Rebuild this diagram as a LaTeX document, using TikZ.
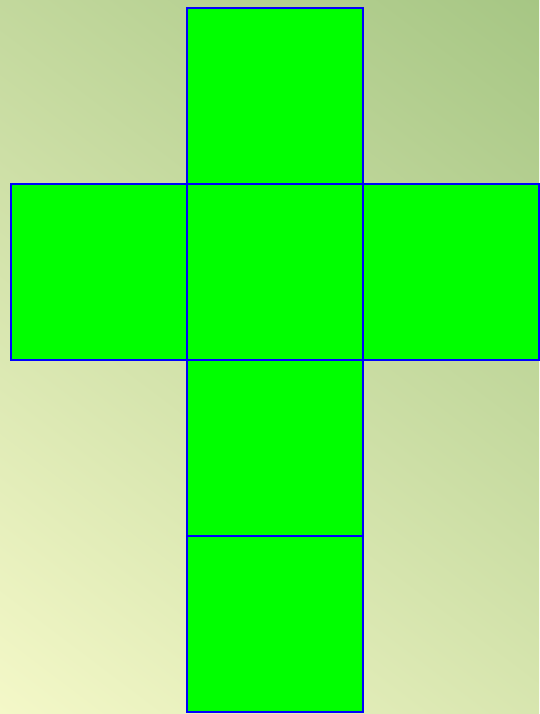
\documentclass[tikz,border=0pt]{standalone}
\begin{document}
\begin{tikzpicture}[x=1pt,y=-1pt,
  face/.style={draw=blue, fill=green, line width=2pt, minimum size=176pt, inner sep=0pt, outer sep=0pt, rectangle}]
\definecolor{bgyellow}{HTML}{F4F8C8}
\definecolor{bggreen}{HTML}{A6C684}
\useasboundingbox (0,0) rectangle (539,714);
\begin{scope}
\clip (0,0) rectangle (539,714);
\begin{scope}[transform canvas={shift={(269.5,357)}, rotate=-37.05}]
\shade[bottom color=bgyellow, top color=bggreen] (-620,-447.3) rectangle (620,447.3);
\end{scope}
\end{scope}
\node[face] (top) at (275,96) {};
\node[face] (left) at (99,272) {};
\node[face] (center) at (275,272) {};
\node[face] (right) at (451,272) {};
\node[face] (below) at (275,448) {};
\node[face] (bottom) at (275,624) {};
\end{tikzpicture}
\end{document}
